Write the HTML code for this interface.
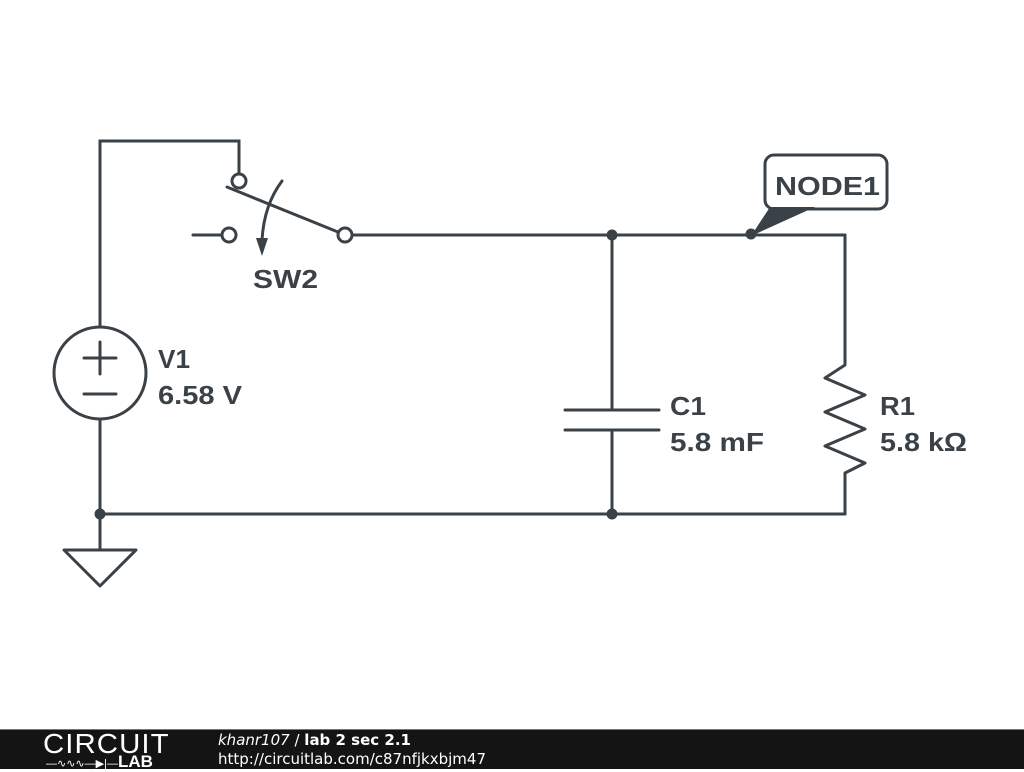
<!DOCTYPE html>
<html><head><style>
body{margin:0;width:1024px;height:768px;background:#fff;overflow:hidden;position:relative;font-family:"Liberation Sans",sans-serif}
#ft{position:absolute;left:0;top:729px;width:1024px;height:39px;background:#141414;border-top:1px solid #777}
</style></head><body>
<svg width="1024" height="730" style="position:absolute;left:0;top:0">
<g stroke="#3b4247" stroke-width="3" fill="none" stroke-linecap="round">
<polyline points="100,327 100,141 239,141 239,174"/>
<circle cx="239" cy="181" r="7" fill="#fff"/>
<line x1="227" y1="187" x2="338" y2="232"/>
<circle cx="345" cy="235" r="7" fill="#fff"/>
<line x1="352" y1="235" x2="845" y2="235"/>
<line x1="193" y1="235" x2="222" y2="235"/>
<circle cx="229" cy="235" r="7" fill="#fff"/>
<path d="M282,181 Q264,205 262,240"/>
<circle cx="100" cy="373" r="46" fill="#fff"/>
<line x1="84" y1="358" x2="116" y2="358"/><line x1="100" y1="342" x2="100" y2="374"/>
<line x1="84" y1="394" x2="116" y2="394"/>
<line x1="100" y1="419" x2="100" y2="550"/>
<polygon points="64,550 136,550 100,586" stroke-linejoin="round"/>
<line x1="100" y1="514" x2="845" y2="514"/>
<line x1="612" y1="235" x2="612" y2="410"/>
<line x1="612" y1="430" x2="612" y2="514"/>
<line x1="565" y1="410" x2="659" y2="410"/>
<line x1="565" y1="430" x2="659" y2="430"/>
<polyline points="845,235 845,365 825,378 865,395 825,412 865,429 825,446 865,463 845,473 845,514" stroke-linejoin="round"/>
<rect x="765" y="155" width="122" height="54" rx="9" fill="#fff"/>
</g>
<polygon points="256,238 268,238 262,256" fill="#3b4247"/>
<polygon points="770,207 815,207 751,236" fill="#3b4247"/>
<g fill="#3b4247"><circle cx="612" cy="235" r="5.5"/><circle cx="751" cy="234" r="5.5"/><circle cx="100" cy="514" r="5.5"/><circle cx="612" cy="514" r="5.5"/></g>
<g fill="#3b4247" font-weight="bold" font-size="26" lengthAdjust="spacingAndGlyphs">
<text x="253" y="288" textLength="65" lengthAdjust="spacingAndGlyphs">SW2</text>
<text x="158" y="368" textLength="32" lengthAdjust="spacingAndGlyphs">V1</text><text x="158" y="404" textLength="84" lengthAdjust="spacingAndGlyphs">6.58 V</text>
<text x="670" y="415" textLength="36" lengthAdjust="spacingAndGlyphs">C1</text><text x="670" y="451" textLength="94" lengthAdjust="spacingAndGlyphs">5.8 mF</text>
<text x="880" y="415" textLength="35" lengthAdjust="spacingAndGlyphs">R1</text><text x="880" y="451" textLength="87" lengthAdjust="spacingAndGlyphs">5.8 kΩ</text>
<text x="775" y="195" textLength="105" lengthAdjust="spacingAndGlyphs">NODE1</text>
</g>
</svg>
<div id="ft">
<div style="position:absolute;left:43px;top:0;color:#fff;font-size:28px;letter-spacing:1px;font-weight:300;line-height:27px;transform:scaleX(1.05);transform-origin:left">CIRCUIT</div>
<div style="position:absolute;left:46px;top:22px;color:#fff;font-size:11px;white-space:nowrap">—∿∿∿—▶|—<b style="font-size:17px">LAB</b></div>
<div style="position:absolute;left:218px;top:1px;color:#fff;font-size:15px;font-family:'DejaVu Sans',sans-serif"><i>khanr107</i> / <b>lab 2 sec 2.1</b></div>
<div style="position:absolute;left:218px;top:20px;color:#fff;font-size:15px;font-family:'DejaVu Sans',sans-serif">http://circuitlab.com/c87nfjkxbjm47</div>
</div>
</body></html>
